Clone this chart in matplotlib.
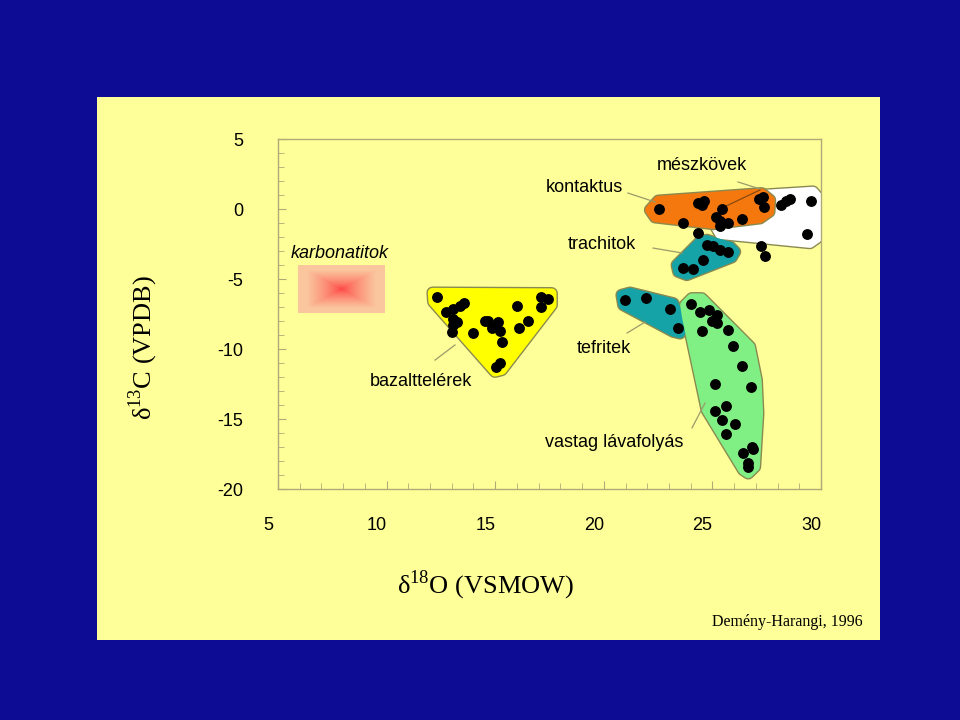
#!/usr/bin/env python3
"""
d13C vs d18O of carbonates (Demény-Harangi, 1996)
"""

import numpy as np
import matplotlib
matplotlib.use('Agg')
import matplotlib.pyplot as plt
from matplotlib.patches import Polygon, Rectangle
from matplotlib.transforms import ScaledTranslation

plt.rcParams['font.family'] = ['Liberation Sans', 'DejaVu Sans']
plt.rcParams['mathtext.fontset'] = 'custom'
plt.rcParams['mathtext.rm'] = 'Liberation Serif'
plt.rcParams['axes.unicode_minus'] = False

# ---- data (d18O, d13C) ----
bazalt_x = [12.31, 12.73, 13.07, 13.38, 13.58, 13.04, 13.23, 13.07, 13.02, 13.99, 14.53, 14.68,
            14.84, 15.12, 15.22, 15.33, 16.02, 16.10, 16.52, 17.11, 17.42, 17.11, 15.22, 15.04]
bazalt_y = [-6.31, -7.38, -7.14, -6.91, -6.69, -7.88, -8.05, -8.29, -8.76, -8.88, -7.98, -8.0,
            -8.48, -8.09, -8.69, -9.5, -6.91, -8.52, -8.02, -6.26, -6.41, -6.98, -10.98, -11.31]

kontakt_x = [22.54, 24.35, 24.63, 24.52, 25.44, 25.17, 25.35, 25.35, 25.73, 26.35, 23.63, 24.32]
kontakt_y = [-0.02, 0.45, 0.59, 0.29, -0.02, -0.55, -0.84, -1.21, -1.02, -0.71, -1.02, -1.69]

meszko_x = [27.15, 27.34, 27.38, 28.14, 28.37, 28.57, 29.54, 29.34, 27.24, 27.44]
meszko_y = [0.71, 0.84, 0.16, 0.29, 0.59, 0.71, 0.59, -1.79, -2.62, -3.34]

trachit_x = [24.74, 25.01, 25.35, 25.73, 24.55, 23.63, 24.12]
trachit_y = [-2.57, -2.62, -2.93, -3.05, -3.64, -4.24, -4.31]

tefrit_x = [20.98, 21.93, 23.05, 23.43]
tefrit_y = [-6.5, -6.38, -7.14, -8.52]

vastag_x = [24.01, 24.43, 24.84, 25.23, 24.97, 25.23, 24.54, 25.73, 25.93, 26.35, 25.13,
            26.76, 25.63, 25.13, 25.43, 26.04, 25.63, 26.81, 26.88, 26.42, 26.65, 26.65]
vastag_y = [-6.81, -7.38, -7.21, -7.57, -7.98, -8.16, -8.69, -8.64, -9.79, -11.21, -12.5,
            -12.69, -14.05, -14.41, -15.07, -15.38, -16.07, -16.98, -17.16, -17.41, -18.16, -18.41]

# field outlines
bazalt_field = [(12.12, -5.98), (17.60, -6.02), (17.60, -6.86), (15.30, -11.5), (14.99, -11.62), (12.15, -6.62)]
meszko_field = [(25.03, -0.93), (27.19, 1.0), (29.63, 1.24), (29.88, 0.79), (29.82, -2.07), (29.49, -2.43), (25.35, -1.79)]
kontakt_field = [(22.13, -0.07), (22.51, 0.59), (27.27, 1.12), (27.65, 0.64), (27.62, -0.19), (27.19, -0.66), (25.04, -1.07), (22.36, -0.59)]
trachit_field = [(24.74, -2.21), (25.81, -2.69), (26.04, -3.05), (25.89, -3.45), (23.82, -4.71), (23.43, -4.48), (23.36, -4.0), (24.43, -2.34)]
tefrit_field = [(20.82, -6.14), (21.21, -5.98), (23.2, -6.74), (23.69, -8.41), (23.51, -8.88), (23.2, -8.76), (20.9, -6.86)]
vastag_field = [(23.74, -6.86), (24.05, -6.38), (24.51, -6.38), (26.73, -9.84), (27.04, -12.21), (27.11, -14.59),
                (26.96, -18.41), (26.65, -18.88), (26.42, -18.64), (24.74, -14.36), (23.82, -7.69)]
karbonatit_box = (5.92, 9.88, -7.43, -4.07)

xticks = [5, 10, 15, 20, 25, 30]
yticks = [5, 0, -5, -10, -15, -20]

BLUE = '#0c0c94'
PANEL = '#ffff99'
FRAME = '#b0aa78'

fig = plt.figure(figsize=(9.6, 7.2), dpi=100, facecolor=BLUE)
fig.patches.append(Rectangle((97/960, 1-640/720), 783/960, 543/720, transform=fig.transFigure,
                             facecolor=PANEL, edgecolor='none', zorder=-1))

ax = fig.add_axes([278/960, 1-489/720, 543/960, 350/720])
ax.set_facecolor(PANEL)
ax.set_xlim(5, 30)
ax.set_ylim(-20, 5)
for s in ax.spines.values():
    s.set_color(FRAME)
    s.set_linewidth(1.0)

ax.set_xticks(xticks)
ax.set_yticks(yticks)
ax.set_xticks(np.arange(5, 31, 1), minor=True)
ax.set_yticks(np.arange(-20, 6, 1), minor=True)
ax.tick_params(which='both', direction='in', color=FRAME, top=False, right=False)
ax.tick_params(which='major', length=6, labelsize=13)
ax.tick_params(axis='x', which='major', pad=20)
ax.tick_params(axis='y', which='major', pad=25)
ax.tick_params(which='minor', length=4)
shift = ScaledTranslation(-10/100, 0, fig.dpi_scale_trans)
for lab in ax.get_xticklabels():
    lab.set_transform(lab.get_transform() + shift)

# fields: outline first (thick, round joins), fill on top -> rounded corners
def field(pts, fc, ec='#8a8a50', z=2):
    ax.add_patch(Polygon(pts, closed=True, facecolor=fc, edgecolor=ec, lw=9, joinstyle='round', zorder=z))
    ax.add_patch(Polygon(pts, closed=True, facecolor=fc, edgecolor=fc, lw=7, joinstyle='round', zorder=z + 0.1))

field(bazalt_field, '#ffff00')
field(meszko_field, '#ffffff', z=2)
field(kontakt_field, '#f5780f', z=2.5)
field(trachit_field, '#15a3a8')
field(tefrit_field, '#15a3a8')
field(vastag_field, '#80f084')

# karbonatit gradient box
x0, x1, y0, y1 = karbonatit_box
u = np.linspace(-1, 1, 200)
uu, vv = np.meshgrid(u, u)
t = np.clip(np.maximum(np.abs(uu), np.abs(vv)) * 1.25, 0, 1) ** 0.7
red = np.array([1.0, 0.25, 0.25])
peach = np.array([0.98, 0.78, 0.62])
img = red[None, None, :] * (1 - t[..., None]) + peach[None, None, :] * t[..., None]
ax.imshow(img, extent=[x0, x1, y0, y1], aspect='auto', zorder=2, interpolation='bilinear')

# points
for xs, ys in [(bazalt_x, bazalt_y), (kontakt_x, kontakt_y), (meszko_x, meszko_y),
               (trachit_x, trachit_y), (tefrit_x, tefrit_y), (vastag_x, vastag_y)]:
    ax.plot(xs, ys, 'o', color='black', ms=6.8, zorder=5)

# leader lines
LC = '#9a9a6a'
leaders = [((12.23, -10.79), (13.15, -9.71)),
           ((21.11, 1.14), (22.36, 0.5)),
           ((26.18, 1.93), (27.19, 1.43)),
           ((22.27, -2.79), (23.6, -3.14)),
           ((21.07, -8.86), (21.9, -8.07)),
           ((24.06, -15.64), (24.66, -13.86))]
for (a, b) in leaders:
    ax.plot([a[0], b[0]], [a[1], b[1]], color=LC, lw=0.9, zorder=4)
ax.plot([27.19, 25.44], [1.36, 0.07], color='#8a4a10', lw=0.9, zorder=4)

# labels
fs = 13
ax.text(7.85, -3.21, 'karbonatitok', fontsize=fs, style='italic', ha='center', va='center')
ax.text(19.09, 1.5, 'kontaktus', fontsize=fs, ha='center', va='center')
ax.text(24.52, 3.14, 'mészkövek', fontsize=fs, ha='center', va='center')
ax.text(19.92, -2.57, 'trachitok', fontsize=fs, ha='center', va='center')
ax.text(20.01, -9.93, 'tefritek', fontsize=fs, ha='center', va='center')
ax.text(20.47, -16.71, 'vastag lávafolyás', fontsize=fs, ha='center', va='center')
ax.text(11.58, -12.29, 'bazalttelérek', fontsize=fs, ha='center', va='center')

fig.text(143/960, 1-348/720, r'δ$^{\mathrm{13}}$C (VPDB)', family='Liberation Serif',
         fontsize=19, rotation=90, ha='center', va='center')
fig.text(486/960, 1-585/720, r'δ$^{\mathrm{18}}$O (VSMOW)', family='Liberation Serif',
         fontsize=19, ha='center', va='center')
fig.text(787/960, 1-622/720, 'Demény-Harangi, 1996', family='Liberation Serif',
         fontsize=11.5, ha='center', va='center')

plt.savefig('out.png', dpi=100, facecolor=BLUE)
